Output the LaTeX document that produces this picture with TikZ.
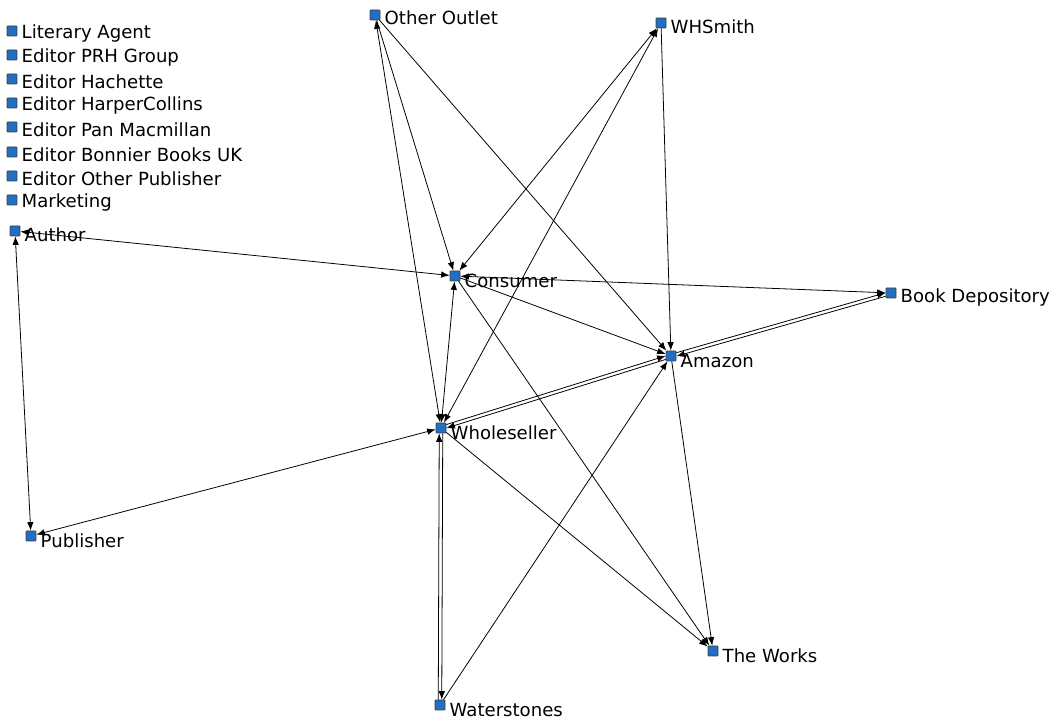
\documentclass[tikz,border=0pt]{standalone}
\usepackage{fontspec}
\setmainfont{DejaVu Sans}
\usetikzlibrary{arrows.meta,positioning}
\definecolor{kek}{RGB}{34,110,192}
\tikzset{
  csucs/.style={draw=black!75,fill=kek,minimum size=2mm,inner sep=0pt,rounded corners=0.4pt},
  felirat/.style={inner sep=0pt,anchor=west,font=\fontsize{10.3}{12}\selectfont},
  nyil/.style={-{Latex[length=1.7mm,width=1.3mm]},line width=0.45pt},
  ketto/.style={{Latex[length=1.7mm,width=1.3mm]}-{Latex[length=1.7mm,width=1.3mm]},line width=0.45pt},
}

\begin{document}
\begin{tikzpicture}[x=0.02cm,y=-0.02cm]
  \useasboundingbox (0,0) rectangle (1056,722);
  % csucsok
  \node[csucs] (lit)  at (12,31)  {};
  \node[csucs] (prh)  at (12,55)  {};
  \node[csucs] (hach) at (12,79)  {};
  \node[csucs] (harp) at (12,103) {};
  \node[csucs] (pan)  at (12,127) {};
  \node[csucs] (bon)  at (12,152) {};
  \node[csucs] (oth)  at (12,176) {};
  \node[csucs] (mark) at (12,200) {};
  \node[csucs] (auth) at (15,231) {};
  \node[csucs] (outl) at (375,15) {};
  \node[csucs] (whs)  at (661,23) {};
  \node[csucs] (cons) at (455,276) {};
  \node[csucs] (bdep) at (891,293) {};
  \node[csucs] (amaz) at (671,356) {};
  \node[csucs] (whol) at (441,428) {};
  \node[csucs] (publ) at (31,536) {};
  \node[csucs] (work) at (713,651) {};
  \node[csucs] (wat)  at (440,705) {};
  % feliratok
  \node[felirat,right=0.8mm of lit,yshift=-0.6mm]  {Literary Agent};
  \node[felirat,right=0.8mm of prh,yshift=-0.6mm]  {Editor PRH Group};
  \node[felirat,right=0.8mm of hach,yshift=-0.6mm] {Editor Hachette};
  \node[felirat,right=0.8mm of harp,yshift=-0.6mm] {Editor HarperCollins};
  \node[felirat,right=0.8mm of pan,yshift=-0.6mm]  {Editor Pan Macmillan};
  \node[felirat,right=0.8mm of bon,yshift=-0.6mm]  {Editor Bonnier Books UK};
  \node[felirat,right=0.8mm of oth,yshift=-0.6mm]  {Editor Other Publisher};
  \node[felirat,right=0.8mm of mark,yshift=-0.6mm] {Marketing};
  \node[felirat,right=0.8mm of auth,yshift=-0.8mm] {Author};
  \node[felirat,right=0.8mm of outl,yshift=-0.6mm] {Other Outlet};
  \node[felirat,right=0.8mm of whs,yshift=-0.8mm]  {WHSmith};
  \node[felirat,right=0.8mm of cons,yshift=-1mm]   {Consumer};
  \node[felirat,right=0.8mm of bdep,yshift=-0.9mm] {Book Depository};
  \node[felirat,right=0.8mm of amaz,yshift=-1mm]   {Amazon};
  \node[felirat,right=0.8mm of whol,yshift=-1mm]   {Wholeseller};
  \node[felirat,right=0.8mm of publ,yshift=-1mm]   {Publisher};
  \node[felirat,right=0.8mm of work,yshift=-1mm]   {The Works};
  \node[felirat,right=0.8mm of wat,yshift=-1mm]    {Waterstones};
  % elek
  \draw[ketto] (auth) -- (cons);
  \draw[ketto] (auth) -- (publ);
  \draw[ketto] (publ) -- (whol);
  \draw[ketto] (outl) -- (whol);
  \draw[nyil] (outl) -- (cons);
  \draw[nyil] (outl) -- (amaz);
  \draw[ketto] (whs) -- (cons);
  \draw[ketto] (whs) -- (whol);
  \draw[nyil] (whs) -- (amaz);
  \draw[ketto] (cons) -- (bdep);
  \draw[nyil] (cons) -- (amaz);
  \draw[nyil] (cons) -- (work);
  \draw[ketto] (cons) -- (whol);
  \draw[nyil,transform canvas={yshift=0.35mm}] (whol) -- (amaz);
  \draw[nyil,transform canvas={yshift=-0.35mm}] (amaz) -- (whol);
  \draw[nyil,transform canvas={yshift=0.35mm}] (amaz) -- (bdep);
  \draw[nyil,transform canvas={yshift=-0.35mm}] (bdep) -- (amaz);
  \draw[nyil] (whol) -- (work);
  \draw[nyil] (amaz) -- (work);
  \draw[nyil,transform canvas={xshift=0.35mm}] (whol) -- (wat);
  \draw[nyil,transform canvas={xshift=-0.35mm}] (wat) -- (whol);
  \draw[nyil] (wat) -- (amaz);
\end{tikzpicture}
\end{document}
